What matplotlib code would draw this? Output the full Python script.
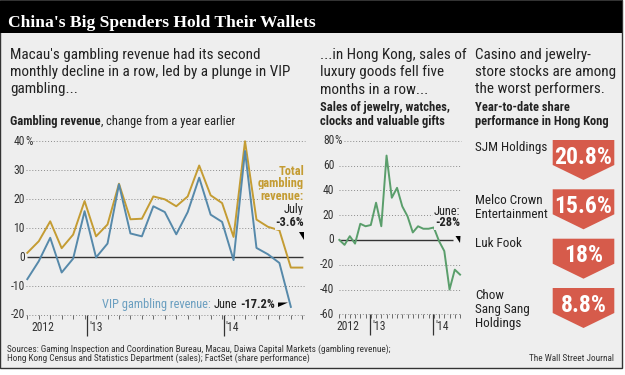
import numpy as np
import matplotlib
matplotlib.use('Agg')
import matplotlib.pyplot as plt
from matplotlib import font_manager
from matplotlib.patches import Polygon, Rectangle

# Macau gambling revenue, % change from a year earlier, Jul 2012 - Jul 2014
total_rev = [1.5, 5.5, 12.4, 3.1, 7.8, 19.4, 7.2, 11.3, 25.4, 13.1, 13.3, 21.0, 20.0,
             17.6, 21.0, 31.7, 21.4, 18.7, 7.0, 40.1, 13.0, 10.5, 9.3, -3.6, -3.6]
# VIP gambling revenue, Jul 2012 - Jun 2014
vip_rev = [-7.6, -1.4, 6.7, -5.3, -0.5, 15.9, -0.1, 4.7, 25.2, 8.2, 7.2, 17.6, 15.6,
           7.9, 15.6, 27.5, 14.7, 12.2, -1.0, 36.7, 3.2, 1.0, -2.0, -17.2]
gamb_yticks = [40, 30, 20, 10, 0, -10, -20]

# Hong Kong sales of jewelry, watches, clocks and valuable gifts, Jul 2012 - Jun 2014
hk_sales = [0, -4, 3, -3, 13, 11, 12, 30, 11, 68, 34, 42, 27, 19, 6, 11, 9, 9, 10,
            -1, -9, -40, -24, -28]
hk_yticks = [80, 60, 40, 20, 0, -20, -40, -60]

# year-to-date share performance in Hong Kong
companies = ['SJM Holdings', 'Melco Crown\nEntertainment', 'Luk Fook', 'Chow\nSang Sang\nHoldings']
ytd_change = [-20.8, -15.6, -18, -8.8]

GOLD = '#c49c33'
BLUE = '#5689aa'
BLUE_TXT = '#6b9fc0'
GREEN = '#5a9e6b'
RED = '#d65b4b'
BG = '#eeeeee'
INK = '#222222'
GRID = '#8c8c8c'

have = {f.name for f in font_manager.fontManager.ttflist}


def pick(*names):
    for n in names:
        if n in have:
            return n
    return 'DejaVu Sans'


NARROW = pick('Liberation Sans Narrow', 'Roboto Condensed', 'Open Sans Condensed', 'Lato')
SERIF = pick('DejaVu Serif Condensed', 'Liberation Serif')

fig = plt.figure(figsize=(6.25, 3.75), dpi=100)
fig.patch.set_facecolor('white')
bg = fig.add_axes([0, 0, 1, 1])
bg.set_xlim(0, 625)
bg.set_ylim(375, 0)
bg.axis('off')
renderer = fig.canvas.get_renderer()


def width_of(s, **kw):
    t = bg.text(0, 0, s, **kw)
    w = t.get_window_extent(renderer).width
    t.remove()
    return w


def fit(s, px, **kw):
    return 10 * px / width_of(s, fontsize=10, **kw)


# background, frame and title bar
bg.add_patch(Rectangle((0, 0), 622, 368, fc=BG, ec='#333333', lw=1.0))
bg.add_patch(Rectangle((0, 1), 622, 32, fc='black', ec='none'))

s_title = fit("China's Big Spenders Hold Their Wallets", 308, family=SERIF, weight='bold')
s_deck = fit('monthly decline in a row, led by a plunge in VIP', 278, family=NARROW)
s_sub = fit('Sales of jewelry, watches,', 130, family=NARROW, weight='bold')
s_tick = fit('2012', 22.5, family=NARROW)
s_note = fit('gambling', 46, family=NARROW, weight='bold')
s_comp = fit('Entertainment', 72, family=NARROW)
s_val = fit('20.8%', 58, family=NARROW, weight='bold')
src1 = 'Sources: Gaming Inspection and Coordination Bureau, Macau, Daiwa Capital Markets (gambling revenue);'
src2 = 'Hong Kong Census and Statistics Department (sales); FactSet (share performance)'
s_src = fit(src1, 385, family=NARROW)


def chart(l, t, r, b, xlim, ylim):
    ax = fig.add_axes([l / 625, 1 - b / 375, (r - l) / 625, (b - t) / 375])
    ax.set_xlim(*xlim)
    ax.set_ylim(*ylim)
    ax.patch.set_visible(False)
    for sp in ax.spines.values():
        sp.set_visible(False)
    ax.set_yticks([])
    return ax


def grid_and_ticks(ax, yticks, x0_pct, x_end, zero_end, label_x, n, years):
    for v in yticks:
        if v == 0:
            ax.hlines(0, 0, zero_end, color='#333333', lw=1.0, clip_on=False, zorder=1)
        else:
            start = x0_pct if v == yticks[0] else -0.1
            ax.hlines(v, start, x_end, color=GRID, lw=0.7, linestyles=(0, (1, 2)),
                      clip_on=False, zorder=1)
        ax.text(label_x, v, str(v), transform=ax.get_yaxis_transform(), ha='right',
                va='center', fontsize=s_tick, family=NARROW, color='#333333')
    ax.text(label_x, yticks[0], '%', transform=ax.get_yaxis_transform(), ha='left',
            va='center', fontsize=s_tick, family=NARROW, color='#333333')
    ax.set_xticks(np.arange(n), minor=True)
    ax.set_xticks(years)
    ax.set_xticklabels([])
    ax.tick_params(axis='x', which='minor', length=3, width=0.6, color='#555555')
    ax.tick_params(axis='x', which='major', length=15, width=0.9, color='#333333')


def note(ax, x, s, dx):
    ax.annotate(s, xy=(x, 0), xycoords=ax.get_xaxis_transform(), xytext=(dx, -16),
                textcoords='offset pixels', ha='left', va='baseline',
                fontsize=s_tick, family=NARROW, color='#333333')


# ---- gambling revenue chart
ax1 = chart(27.3, 141.5, 304.6, 315, (0, 24.2), (-20, 40))
grid_and_ticks(ax1, gamb_yticks, 0.5, 24.2, 24.05, -0.0083, len(total_rev), [5.2, 17.15])
ax1.plot(np.arange(len(total_rev)), total_rev, color=GOLD, lw=1.4, zorder=3, clip_on=False)
ax1.plot(np.arange(len(vip_rev)), vip_rev, color=BLUE, lw=1.4, zorder=4, clip_on=False)
note(ax1, 0.4, '2012', 0)
note(ax1, 5.2, "'13", 2)
note(ax1, 17.15, "'14", 2)

# ---- Hong Kong sales chart
ax2 = chart(339.3, 140.7, 461.1, 314.3, (0, 23.2), (-60, 80))
grid_and_ticks(ax2, hk_yticks, 0.9, 23.2, 21.7, -0.041, len(hk_sales), [5.9, 17.9])
ax2.plot(np.arange(len(hk_sales)), hk_sales, color=GREEN, lw=1.4, zorder=3, clip_on=False)
note(ax2, -0.5, '2012', 0)
note(ax2, 5.9, "'13", 2)
note(ax2, 17.9, "'14", 2)

# ---- overlay for text
top = fig.add_axes([0, 0, 1, 1], zorder=10)
top.set_xlim(0, 625)
top.set_ylim(375, 0)
top.axis('off')
top.patch.set_visible(False)

SP = width_of('x x', fontsize=10, family=NARROW) - width_of('xx', fontsize=10, family=NARROW)


def run(x, y, pieces, ha='left', **common):
    # pieces: (text, style, space after)
    kws = [dict(common, **p) for _, p, _ in pieces]
    widths = [width_of(s, **kw) for (s, _, _), kw in zip(pieces, kws)]
    gaps = [SP * kw['fontsize'] / 10 if sp else 0.3 for (_, _, sp), kw in zip(pieces, kws)]
    total = sum(widths) + sum(gaps[:-1])
    if ha == 'right':
        x -= total
    for (s, _, _), kw, w, g in zip(pieces, kws, widths, gaps):
        top.text(x, y, s, ha='left', va='baseline', **kw)
        x += w + g


top.text(8, 27, "China's Big Spenders Hold Their Wallets", color='white', fontsize=s_title,
         family=SERIF, weight='bold', va='baseline')

decks = [(10, ["Macau's gambling revenue had its second",
               'monthly decline in a row, led by a plunge in VIP', 'gambling...']),
         (320, ['...in Hong Kong, sales of', 'luxury goods fell five', 'months in a row...']),
         (475, ['Casino and jewelry-', 'store stocks are among', 'the worst performers.'])]
for x, lines in decks:
    for i, line in enumerate(lines):
        top.text(x, 58.5 + 17.5 * i, line, fontsize=s_deck, family=NARROW, color=INK,
                 va='baseline')

run(10, 124.5, [('Gambling revenue', dict(weight='bold'), False), (',', {}, True),
                ('change from a year earlier', {}, False)],
    fontsize=s_sub, family=NARROW, color=INK)
for x, lines in [(320, ['Sales of jewelry, watches,', 'clocks and valuable gifts']),
                 (475, ['Year-to-date share', 'performance in Hong Kong'])]:
    for i, line in enumerate(lines):
        top.text(x, 111 + 13.5 * i, line, fontsize=s_sub, family=NARROW, weight='bold',
                 color=INK, va='baseline')

box = dict(fc=BG, ec='none', pad=0.6)
for i, line in enumerate(['Total', 'gambling', 'revenue:']):
    top.text(304, 175 + 12.3 * i, line, ha='right', va='baseline', fontsize=s_note,
             family=NARROW, weight='bold', color=GOLD, bbox=box)
top.text(304, 213, 'July', ha='right', va='baseline', fontsize=s_note, family=NARROW,
         color=INK, bbox=box)
top.text(304, 226, f'{total_rev[-1]:.1f}%', ha='right', va='baseline', fontsize=s_note,
         family=NARROW, weight='bold', color=INK, bbox=box)
top.add_patch(Polygon([(298.5, 232), (304, 232), (304, 240)], fc='black', ec='none'))

run(275, 308, [('VIP gambling revenue:', dict(color=BLUE_TXT), True), ('June', {}, True),
               (f'{vip_rev[-1]:.1f}%', dict(weight='bold'), False)], ha='right',
    fontsize=s_note, family=NARROW, color=INK)
top.add_patch(Polygon([(278, 302.5), (288, 302.5), (278, 307)], fc='black', ec='none'))

top.text(460, 215, 'June:', ha='right', va='baseline', fontsize=s_note, family=NARROW,
         color=INK, bbox=box)
top.text(460, 226.5, f'{hk_sales[-1]}%', ha='right', va='baseline', fontsize=s_note,
         family=NARROW, weight='bold', color=INK, bbox=box)
top.add_patch(Polygon([(455.5, 236), (460.5, 236), (460, 243)], fc='black', ec='none'))

# share-performance arrows
AX0, AX1 = 552.7, 614.3
arrow_tops = [140, 189.3, 238.7, 288]
label_base = [150.5, 203.5, 247, 299]
for t, name, v, lb in zip(arrow_tops, companies, ytd_change, label_base):
    top.add_patch(Polygon([(AX0, t), (AX1, t), (AX1, t + 25), ((AX0 + AX1) / 2, t + 40),
                           (AX0, t + 25)], fc=RED, ec='none'))
    top.text((AX0 + AX1) / 2, t + 17, f'{abs(v):g}%', ha='center', va='center',
             fontsize=s_val, family=NARROW, weight='bold', color='white')
    for i, line in enumerate(name.split('\n')):
        top.text(475, lb + 14 * i, line, fontsize=s_comp, family=NARROW, color=INK,
                 va='baseline')

top.text(7, 351.5, src1, fontsize=s_src, family=NARROW, color='#333333', va='baseline')
top.text(7, 361, src2, fontsize=s_src, family=NARROW, color='#333333', va='baseline')
top.text(614, 361, 'The Wall Street Journal', fontsize=s_src, family=NARROW, color='#333333',
         ha='right', va='baseline')

fig.savefig('out.png', dpi=100, facecolor='white')
